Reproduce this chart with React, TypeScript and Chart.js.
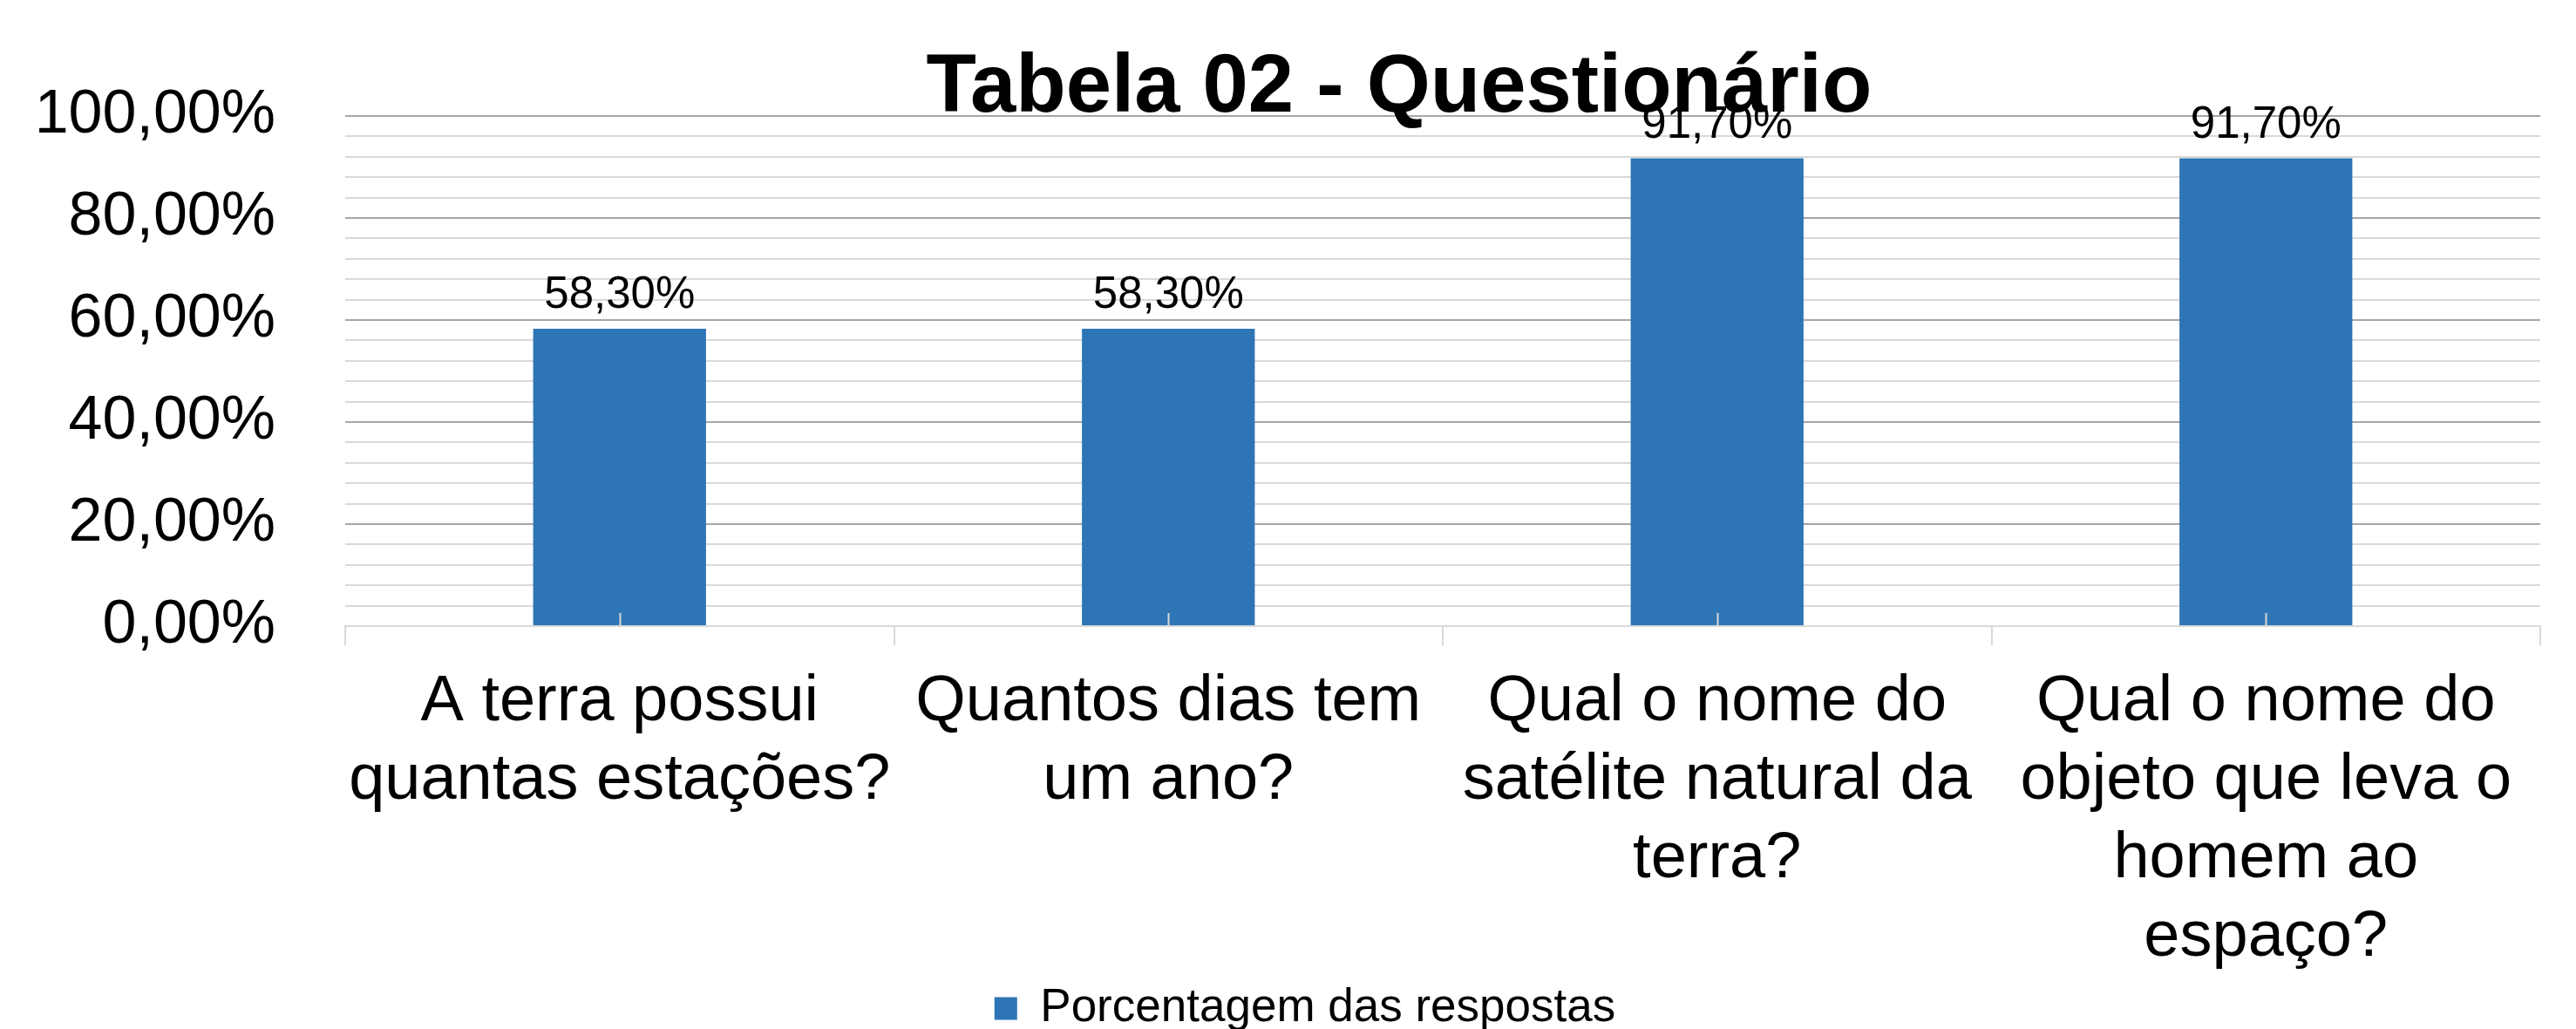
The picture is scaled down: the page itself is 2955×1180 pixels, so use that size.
import React, { useEffect, useRef } from "react";
import { Chart, registerables } from "chart.js";

Chart.register(...registerables);

const FONT = "'Liberation Sans', Arial, Helvetica, sans-serif";

const TITLE = "Tabela 02 - Questionário";
const SERIES_NAME = "Porcentagem das respostas";
const categories: string[][] = [
  ["A terra possui", "quantas estações?"],
  ["Quantos dias tem", "um ano?"],
  ["Qual o nome do", "satélite natural da", "terra?"],
  ["Qual o nome do", "objeto que leva o", "homem ao", "espaço?"],
];
const values: number[] = [58.3, 58.3, 91.7, 91.7];
const yMin = 0;
const yMax = 100;
const yMinorStep = 4;
const yMajorStep = 20;

const BAR_COLOR = "#2E75B6";
const MAJOR_GRID = "#a6a6a6";
const MINOR_GRID = "#d9d9d9";

const fmtPct = (v: number) => v.toFixed(2).replace(".", ",") + "%";

const W = 2955;
const H = 1193;

const titlePlugin = {
  id: "refTitle",
  afterDraw(chart: any) {
    const { ctx, chartArea } = chart;
    ctx.save();
    ctx.font = `bold 94px ${FONT}`;
    ctx.fillStyle = "#000";
    ctx.textAlign = "center";
    ctx.textBaseline = "alphabetic";
    ctx.fillText(TITLE, (chartArea.left + chartArea.right) / 2 - 50, chartArea.top - 5);
    ctx.restore();
  },
};

// let the y-axis labels extend into the left layout padding (no clipping)
const unclipYPlugin = {
  id: "unclipY",
  afterLayout(chart: any) {
    const y = chart.scales.y;
    if (y) y.left = 0;
  },
};

const barExtrasPlugin = {
  id: "barExtras",
  afterDatasetsDraw(chart: any) {
    const { ctx, chartArea } = chart;
    const xScale = chart.scales.x;
    ctx.save();
    ctx.strokeStyle = MINOR_GRID;
    ctx.lineWidth = 2;
    categories.forEach((_, i) => {
      const x = Math.round(xScale.getPixelForValue(i)) + 0.5;
      ctx.beginPath();
      ctx.moveTo(x, chartArea.bottom);
      ctx.lineTo(x, chartArea.bottom - 15);
      ctx.stroke();
    });
    const meta = chart.getDatasetMeta(0);
    ctx.font = `51px ${FONT}`;
    ctx.fillStyle = "#000";
    ctx.textAlign = "center";
    ctx.textBaseline = "alphabetic";
    meta.data.forEach((bar: any, i: number) => {
      ctx.fillText(fmtPct(values[i]), bar.x, bar.y - 24);
    });
    ctx.restore();
  },
};

export default function App() {
  const canvasRef = useRef<HTMLCanvasElement | null>(null);

  useEffect(() => {
    if (!canvasRef.current) return;
    const chart = new Chart(canvasRef.current, {
      type: "bar",
      data: {
        labels: categories,
        datasets: [
          {
            label: SERIES_NAME,
            data: values,
            backgroundColor: BAR_COLOR,
            borderWidth: 0,
            categoryPercentage: 1,
            barPercentage: 0.315,
          },
        ],
      },
      options: {
        responsive: false,
        animation: false,
        devicePixelRatio: 1,
        layout: { padding: { left: 80, right: 41, top: 133, bottom: 0 } },
        plugins: {
          title: { display: false },
          tooltip: { enabled: false },
          legend: {
            display: true,
            position: "bottom",
            labels: {
              font: { family: FONT, size: 53 },
              color: "#000",
              boxWidth: 26,
              boxHeight: 26,
              padding: 10,
            },
          },
        },
        scales: {
          x: {
            type: "category",
            afterFit: (scale: any) => {
              scale.height = 402;
            },
            border: { display: true, color: MINOR_GRID, width: 2 },
            grid: {
              display: true,
              drawOnChartArea: false,
              drawTicks: true,
              tickLength: 22,
              color: MINOR_GRID,
              lineWidth: 2,
              offset: true,
            },
            ticks: {
              autoSkip: false,
              maxRotation: 0,
              minRotation: 0,
              padding: 21,
              color: "#000",
              font: { family: FONT, size: 74, lineHeight: 1.216 },
            },
          },
          y: {
            min: yMin,
            max: yMax,
            afterFit: (scale: any) => {
              scale.width = 316;
            },
            border: { display: false },
            grid: {
              drawTicks: false,
              lineWidth: 2,
              color: (c: any) => {
                const v = Math.round(c.tick.value);
                if (v === 0) return MINOR_GRID;
                return v % yMajorStep === 0 ? MAJOR_GRID : MINOR_GRID;
              },
            },
            ticks: {
              stepSize: yMinorStep,
              autoSkip: false,
              padding: 80,
              color: "#000",
              font: { family: FONT, size: 70 },
              callback: (v: any) => {
                const n = Math.round(Number(v));
                return n % yMajorStep === 0 ? fmtPct(n) : "";
              },
            },
          },
        },
      },
      plugins: [unclipYPlugin, barExtrasPlugin, titlePlugin],
    } as any);
    return () => chart.destroy();
  }, []);

  return (
    <div
      style={{
        position: "fixed",
        left: 0,
        top: 0,
        width: W,
        height: H,
        background: "#fff",
      }}
    >
      <canvas
        ref={canvasRef}
        width={W}
        height={H}
        style={{ display: "block", width: W, height: H }}
      />
    </div>
  );
}
